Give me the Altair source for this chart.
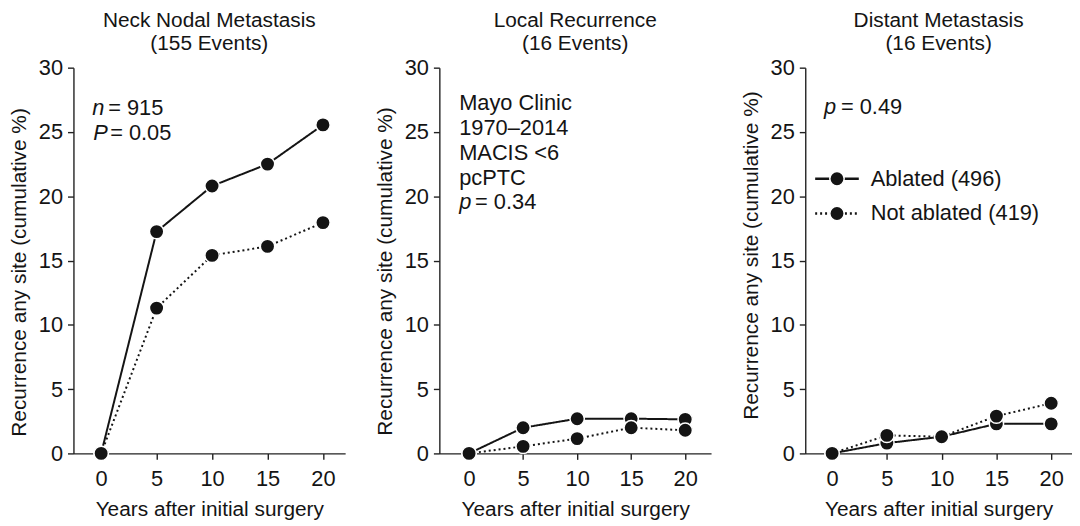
import altair as alt
import pandas as pd

FONT = "Liberation Sans"
INK = "#141414"

years = [0, 5, 10, 15, 20]
series = ["Ablated (496)", "Not ablated (419)"]

neck_ablated = [0, 17.25, 20.8, 22.5, 25.55]
neck_not = [0, 11.3, 15.4, 16.1, 17.95]
local_ablated = [0, 2.0, 2.7, 2.7, 2.65]
local_not = [0, 0.55, 1.15, 2.0, 1.8]
distant_ablated = [0, 0.8, 1.3, 2.3, 2.3]
distant_not = [0, 1.4, 1.3, 2.9, 3.9]

panel_titles = [
    ["Neck Nodal Metastasis", "(155 Events)"],
    ["Local Recurrence", "(16 Events)"],
    ["Distant Metastasis", "(16 Events)"],
]
x_title = "Years after initial surgery"
y_title = "Recurrence any site (cumulative %)"
x_ticks = [0, 5, 10, 15, 20]
y_ticks = [0, 5, 10, 15, 20, 25, 30]

ann_neck = [("n", "= 915"), ("P", "= 0.05")]
ann_local_lines = ["Mayo Clinic", "1970\u20132014", "MACIS <6", "pcPTC"]
ann_local_p = ("p", "= 0.34")
ann_distant_p = ("p", "= 0.49")

ANN_SIZE = 22
H = 389


def txt(s, x, y, italic=False, baseline="alphabetic"):
    return alt.Chart(pd.DataFrame({"t": [s]})).mark_text(
        align="left", baseline=baseline, font=FONT, fontSize=ANN_SIZE,
        fontStyle="italic" if italic else "normal", color=INK
    ).encode(text="t:N", x=alt.value(x), y=alt.value(y))


def panel(title, abl, nab, xdomain, width, title_y, extras):
    df = pd.DataFrame({
        "year": years + years,
        "value": abl + nab,
        "group": [series[0]] * len(years) + [series[1]] * len(years),
    })
    x = alt.X("year:Q", scale=alt.Scale(domain=xdomain, nice=False, zero=False),
              axis=alt.Axis(values=x_ticks, title=x_title, labelPadding=9, titlePadding=10))
    y = alt.Y("value:Q", scale=alt.Scale(domain=[0, 30], nice=False),
              axis=alt.Axis(values=y_ticks, title=y_title, labelPadding=5, titlePadding=9,
                            titleY=title_y))
    lines = alt.Chart(df).mark_line(color=INK, strokeWidth=2).encode(
        x=x, y=y,
        strokeDash=alt.StrokeDash("group:N", scale=alt.Scale(domain=series, range=[[1, 0], [2, 3]]),
                                  legend=None),
        detail="group:N",
    )
    pts = alt.Chart(df).mark_circle(size=210, fill=INK, stroke="white", strokeWidth=1.5,
                                    opacity=1).encode(x=x, y=y)
    layers = [lines, pts] + extras
    return alt.layer(*layers).properties(
        width=width, height=H,
        title=alt.TitleParams(text=title, font=FONT, fontSize=21, fontWeight="normal",
                              color=INK, anchor="middle", lineHeight=23, offset=3),
    )


extras1 = [
    txt(ann_neck[0][0], 19, 48, italic=True), txt(ann_neck[0][1], 35, 48),
    txt(ann_neck[1][0], 20, 73, italic=True), txt(ann_neck[1][1], 37, 73),
]
extras2 = [txt(s, 20, 43 + 25 * i) for i, s in enumerate(ann_local_lines)] + [
    txt(ann_local_p[0], 20, 143, italic=True), txt(ann_local_p[1], 36, 143),
]
leg_rows = [112, 147]
leg_dash = [[1, 0], [2, 3]]
extras3 = [txt(ann_distant_p[0], 19, 47, italic=True), txt(ann_distant_p[1], 36, 47)]
for i, lab in enumerate(series):
    ldf = pd.DataFrame({"label": [lab]})
    extras3.append(alt.Chart(ldf).mark_rule(color=INK, strokeWidth=2.5, strokeDash=leg_dash[i]).encode(
        x=alt.value(10), x2=alt.value(54), y=alt.value(leg_rows[i])))
    extras3.append(alt.Chart(ldf).mark_circle(size=210, fill=INK, stroke="white", strokeWidth=1.5,
                                              opacity=1).encode(x=alt.value(32), y=alt.value(leg_rows[i])))
    extras3.append(alt.Chart(ldf).mark_text(align="left", baseline="middle", font=FONT, fontSize=ANN_SIZE,
                                            color=INK).encode(text="label:N", x=alt.value(66),
                                                              y=alt.value(leg_rows[i])))

p1 = panel(panel_titles[0], neck_ablated, neck_not, [-2.5, 22.0], 274, 206, extras1)
p2 = panel(panel_titles[1], local_ablated, local_not, [-2.75, 22.39], 274, 205, extras2)
p3 = panel(panel_titles[2], distant_ablated, distant_not, [-2.45, 21.9], 269, 189, extras3)

chart = alt.hconcat(p1, p2, p3, spacing=29).properties(
    padding={"left": 0, "top": 0, "right": 0, "bottom": 0}
).configure_view(stroke=None).configure_axis(
    grid=False, domainColor="#222", domainWidth=1.4, tickColor="#222", tickWidth=1.4, tickSize=6,
    labelFont=FONT, labelFontSize=22, labelColor=INK,
    titleFont=FONT, titleFontSize=21, titleFontWeight="normal", titleColor=INK,
)

chart.save("out.html", embed_options={"renderer": "svg", "actions": False})
